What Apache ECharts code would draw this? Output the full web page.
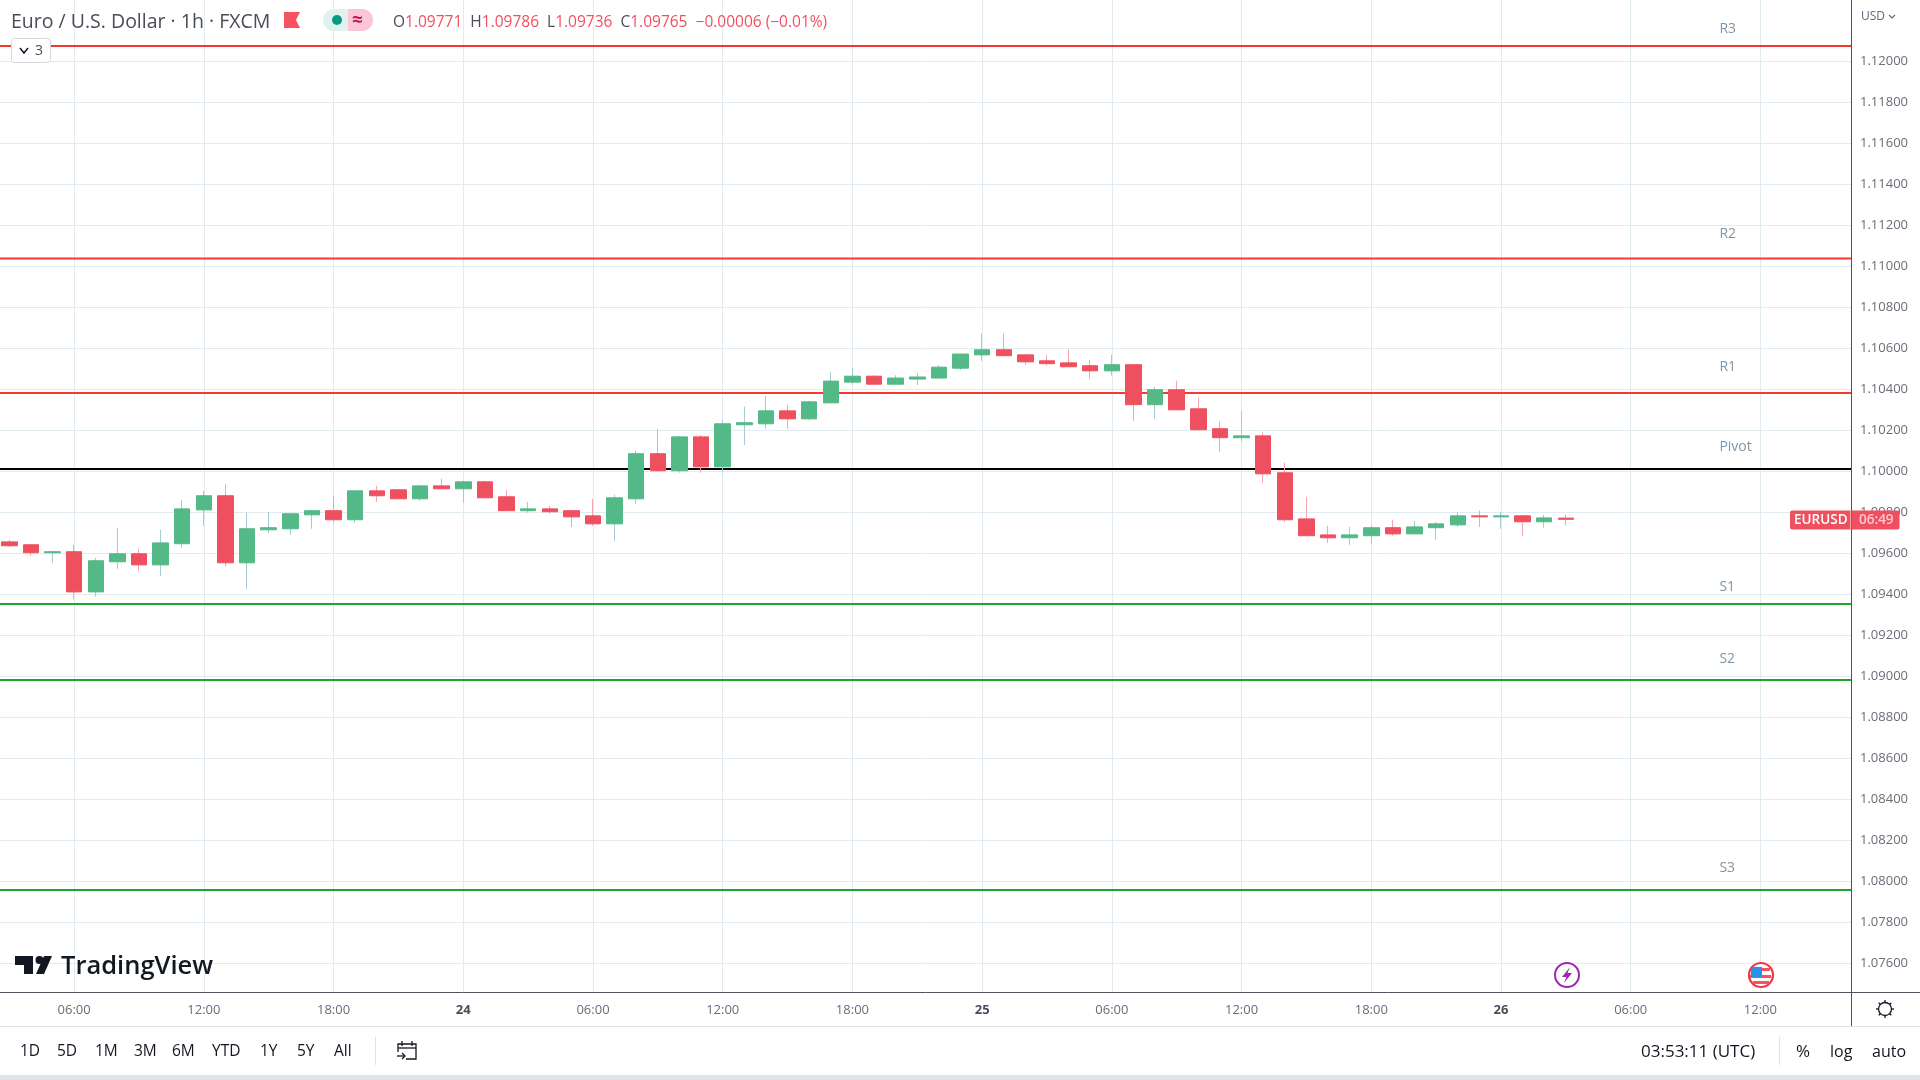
<!DOCTYPE html>
<html>
<head>
<meta charset="utf-8">
<title>EURUSD 1h</title>
<script src="https://cdn.jsdelivr.net/npm/echarts@6/dist/echarts.min.js"></script>
<style>
html, body { margin: 0; padding: 0; background: #fff; }
#main { width: 1920px; height: 1080px; }
</style>
</head>
<body>
<div id="main"></div>
<script>
// x is the hour counted from the start of the 23rd
const hours = [3,4,5,6,7,8,9,10,11,12,13,14,15,16,17,18,19,20,21,22,23,24,25,26,27,28,29,30,31,32,33,34,35,36,37,38,39,40,41,42,43,44,45,46,47,48,49,50,51,52,53,54,55,56,57,58,59,60,61,62,63,64,65,66,67,68,69,70,71,72,73,74,75];
const opens = [1.09655,1.09641,1.09602,1.09607,1.09411,1.09558,1.09597,1.09543,1.09646,1.09811,1.0988,1.09553,1.09714,1.09719,1.09787,1.09807,1.09763,1.09904,1.09909,1.09865,1.09928,1.09914,1.09948,1.09875,1.09807,1.09816,1.09807,1.09782,1.09743,1.09865,1.10085,1.10002,1.10167,1.10021,1.10226,1.10231,1.10294,1.10255,1.10333,1.10434,1.10463,1.10424,1.10449,1.10454,1.10502,1.10567,1.10592,1.10567,1.10538,1.10528,1.10514,1.10489,1.10519,1.10324,1.10397,1.10304,1.10207,1.10163,1.10172,1.09992,1.09767,1.09689,1.09675,1.09685,1.09724,1.09694,1.09724,1.09738,1.09782,1.09777,1.09782,1.09753,1.09771];
const closes = [1.09636,1.09602,1.09607,1.09411,1.09563,1.09597,1.09543,1.0965,1.09816,1.0988,1.09553,1.09719,1.09724,1.09792,1.09807,1.09763,1.09904,1.0988,1.09865,1.09928,1.09914,1.09948,1.0987,1.09807,1.09816,1.09802,1.09777,1.09743,1.0987,1.10085,1.10002,1.10167,1.10021,1.10231,1.10236,1.10294,1.10255,1.10338,1.10439,1.10463,1.10424,1.10454,1.10459,1.10507,1.10571,1.10592,1.10563,1.10533,1.10524,1.10509,1.10489,1.10519,1.10324,1.10397,1.10299,1.10202,1.10163,1.10172,1.09987,1.09763,1.09685,1.09675,1.09689,1.09724,1.09694,1.09728,1.09743,1.09782,1.09777,1.09782,1.09753,1.09772,1.09765];
const lows = [1.09631,1.09587,1.09553,1.09377,1.09387,1.09524,1.09514,1.09489,1.09626,1.09733,1.09533,1.09426,1.09699,1.09689,1.09719,1.09748,1.09748,1.0985,1.09865,1.09855,1.09914,1.09846,1.0987,1.09807,1.09797,1.09792,1.09728,1.09733,1.0966,1.09841,1.09997,1.09992,1.09992,1.09992,1.10128,1.10207,1.10207,1.1025,1.10333,1.1042,1.1042,1.10424,1.1042,1.10454,1.10493,1.10538,1.10563,1.10519,1.10514,1.10509,1.1045,1.10465,1.10246,1.10255,1.10299,1.10197,1.10094,1.10143,1.09943,1.09753,1.09685,1.0965,1.09641,1.09646,1.09685,1.09694,1.09665,1.09728,1.09728,1.09719,1.09685,1.09724,1.09736];
const highs = [1.09665,1.09641,1.09611,1.09641,1.09577,1.09724,1.09621,1.09714,1.0986,1.09904,1.09938,1.09797,1.09802,1.09797,1.09811,1.0988,1.09904,1.09928,1.09909,1.09933,1.09963,1.09953,1.09953,1.09909,1.0985,1.09831,1.09811,1.09865,1.09885,1.10099,1.10207,1.10172,1.10177,1.1025,1.10314,1.10367,1.10324,1.10343,1.10483,1.10502,1.10468,1.10468,1.10478,1.10517,1.10571,1.1067,1.1067,1.10572,1.10567,1.10592,1.10543,1.10567,1.10519,1.10411,1.10441,1.10358,1.10241,1.10294,1.10192,1.10041,1.09875,1.09733,1.09728,1.09738,1.09763,1.09758,1.09753,1.09802,1.09807,1.09802,1.09787,1.09787,1.09786];

const levelNames = ['R3','R2','R1','Pivot','S1','S2','S3'];
const levelValues = [1.12073,1.11037,1.10381,1.1001,1.09352,1.08982,1.07957];
const levelLabelValues = [1.12156,1.11156,1.10508,1.10118,1.09435,1.09084,1.08065];

const yTicks = [1.076,1.078,1.08,1.082,1.084,1.086,1.088,1.09,1.092,1.094,1.096,1.098,1.1,1.102,1.104,1.106,1.108,1.11,1.112,1.114,1.116,1.118,1.12];
const xTicks = [6,12,18,24,30,36,42,48,54,60,66,72,78,84];
const xTickLabels = ['06:00','12:00','18:00','24','06:00','12:00','18:00','25','06:00','12:00','18:00','26','06:00','12:00'];
const rangeButtons = ['1D','5D','1M','3M','6M','YTD','1Y','5Y','All'];
const ohlc = [['O','1.09771'],['H','1.09786'],['L','1.09736'],['C','1.09765']];

const X_MIN = 2.57, X_MAX = 88.19, Y_MIN = 1.0746, Y_MAX = 1.122975;
const UP = '#53b987', DOWN = '#ef5060', UP_WICK = '#a3cdd0', DOWN_WICK = '#f7a3ae';
const GRID = '#e1ebf2', AXIS = '#50535e', UI_FONT = '"Open Sans", sans-serif';

function levelColor(name) {
    if (name === 'Pivot') return '#000000';
    return name[0] === 'R' ? '#f23a30' : '#1fa62c';
}

/** text element for the toolbars */
function uiText(x, y, text, size, color, extra) {
    return {
        type: 'text', x: x, y: y, z: 100,
        style: Object.assign({
            text: text, fill: color, fontFamily: UI_FONT, fontSize: size, align: 'left', verticalAlign: 'middle'
        }, extra || {})
    };
}
function hline(x1, x2, y, color, width) {
    return { type: 'line', z: 90, shape: { x1: x1, y1: y, x2: x2, y2: y }, style: { stroke: color, lineWidth: width || 1 } };
}
function vline(x, y1, y2, color, width) {
    return { type: 'line', z: 90, shape: { x1: x, y1: y1, x2: x, y2: y2 }, style: { stroke: color, lineWidth: width || 1 } };
}
function box(x, y, w, h, fill, r, stroke) {
    return { type: 'rect', z: 97, shape: { x: x, y: y, width: w, height: h, r: r || 0 }, style: { fill: fill, stroke: stroke || null } };
}
function poly(points, fill) {
    return { type: 'polygon', z: 98, shape: { points: points }, style: { fill: fill } };
}
function stroke(points, color, width) {
    return { type: 'polyline', z: 98, shape: { points: points }, style: { stroke: color, fill: null, lineWidth: width || 1.3 } };
}
function ring(cx, cy, r, color, width, fill) {
    return { type: 'circle', z: 96, shape: { cx: cx, cy: cy, r: r }, style: { stroke: color, lineWidth: width, fill: fill || '#fff' } };
}

function headerElements() {
    let list = [];
    list.push(uiText(11, 22, 'Euro / U.S. Dollar · 1h · FXCM', 19.5, '#4a4d57'));
    list.push(poly([[284, 12], [300, 12], [296, 20], [300, 28], [284, 28]], '#f7525f'));
    list.push(box(323, 9, 25, 22, '#dff2ef', [11, 0, 0, 11]));
    list.push(box(348, 9, 25, 22, '#fbc7d8', [0, 11, 11, 0]));
    list.push({ type: 'circle', z: 98, shape: { cx: 337, cy: 20, r: 5 }, style: { fill: '#089981' } });
    list.push(uiText(352, 21, '≈', 19, '#c2185b', { fontWeight: 'bold' }));
    let rich = ohlc.map(p => '{k|' + p[0] + '}{v|' + p[1] + '}').join('  ') + '  {v|−0.00006 (−0.01%)}';
    list.push(uiText(393, 23, rich, 15.5, '#4a4d57', {
        rich: {
            k: { fill: '#4a4d57', fontFamily: UI_FONT, fontSize: 15.5 },
            v: { fill: '#ef5060', fontFamily: UI_FONT, fontSize: 15.5 }
        }
    }));
    list.push(box(11.5, 38.5, 39, 24, '#fff', 3, '#d6d8de'));
    list.push(stroke([[20, 48], [24, 53], [28, 48]], '#131722', 1.5));
    list.push(uiText(35, 51, '3', 14, '#4a4d57'));
    list.push(uiText(1861, 17, 'USD', 12, '#5a6a80'));
    list.push(stroke([[1889, 15], [1892, 18], [1895, 15]], '#5a6a80', 1.2));
    return list;
}

function logoElements() {
    return [
        poly([[15, 956], [33, 956], [33, 974], [24, 974], [24, 965], [15, 965]], '#131722'),
        { type: 'circle', z: 98, shape: { cx: 39.5, cy: 960, r: 4 }, style: { fill: '#131722' } },
        poly([[44, 956], [52, 956], [44, 974], [36, 974]], '#131722'),
        uiText(61, 967, 'TradingView', 25.5, '#131722', { fontWeight: 600 })
    ];
}

function markerElements() {
    let list = [];
    // session break marker
    list.push(ring(1567, 975, 12, '#9c27b0', 2));
    list.push(poly([[1570, 967], [1562, 977], [1566.5, 977], [1564, 983], [1572, 973], [1567.5, 973]], '#9c27b0'));
    // US event marker
    list.push(ring(1761, 975, 12, '#f23645', 2.2));
    list.push(box(1752, 968, 18, 3, '#f7525f'));
    list.push(box(1750, 975, 21, 3, '#f7525f'));
    list.push(box(1753, 981, 16, 3, '#f7525f'));
    list.push(box(1751, 967, 11, 10, '#2e8fe8', [3, 0, 0, 0]));
    return list;
}

function tagElements() {
    return [
        box(1790, 510.5, 60.5, 19, DOWN, [2, 0, 0, 2]),
        box(1851.5, 510.5, 48, 19, DOWN, [0, 2, 2, 0]),
        uiText(1794, 520.5, 'EURUSD', 13.5, '#ffffff', { fontWeight: 600 }),
        uiText(1859, 520.5, '06:49', 13.5, '#ffc9d0', { fontWeight: 600 })
    ];
}

function footerElements() {
    let list = [];
    list.push(vline(1851.5, 992, 1026, AXIS));
    list.push(hline(1851, 1920, 992.5, AXIS));
    list.push(hline(0, 1920, 1026.5, '#e0e3eb'));
    list.push(box(0, 1075, 1920, 5, '#e0e3eb'));
    let xs = [20, 57, 95, 134, 172, 212, 260, 297, 334];
    rangeButtons.forEach((t, i) => list.push(uiText(xs[i], 1052, t, 15.5, '#131722')));
    list.push(vline(375.5, 1037, 1065, '#e0e3eb'));
    // go-to-date icon
    list.push(stroke([[398, 1052], [398, 1044], [416, 1044], [416, 1059], [406, 1059]], '#131722'));
    list.push(stroke([[398, 1048], [416, 1048]], '#131722'));
    list.push(stroke([[402, 1041], [402, 1046]], '#131722'));
    list.push(stroke([[412, 1041], [412, 1046]], '#131722'));
    list.push(stroke([[397, 1056], [405, 1056]], '#131722'));
    list.push(stroke([[402, 1053], [405, 1056], [402, 1059]], '#131722'));
    list.push(uiText(1641, 1052, '03:53:11 (UTC)', 17, '#131722'));
    list.push(vline(1779.5, 1037, 1065, '#e0e3eb'));
    list.push(uiText(1796, 1052, '%', 17, '#131722'));
    list.push(uiText(1830, 1052, 'log', 16, '#131722'));
    list.push(uiText(1872, 1052, 'auto', 16, '#131722'));
    // settings gear
    list.push(ring(1885, 1009, 6.5, '#131722', 1.3));
    [[0, -1], [0, 1], [1, 0], [-1, 0], [.7, .7], [-.7, .7], [.7, -.7], [-.7, -.7]].forEach(d => {
        list.push(stroke([[1885 + d[0] * 6.5, 1009 + d[1] * 6.5], [1885 + d[0] * 9, 1009 + d[1] * 9]], '#131722', 1.3));
    });
    return list;
}

const wickData = hours.map((h, i) => [h, opens[i], closes[i], lows[i], highs[i]]);
const bodyData = hours.map((h, i) => [h, opens[i], closes[i], Math.min(opens[i], closes[i]), Math.max(opens[i], closes[i])]);

const levelSeries = levelNames.map((name, i) => ({
    name: name,
    type: 'line',
    z: 1,
    silent: true,
    showSymbol: false,
    lineStyle: { color: levelColor(name), width: 2 },
    data: [[X_MIN, levelValues[i]], [X_MAX, levelValues[i]]]
}));

const levelLabels = {
    type: 'scatter',
    z: 1,
    silent: true,
    symbolSize: 1,
    itemStyle: { color: 'rgba(0,0,0,0)' },
    label: {
        show: true,
        position: 'right',
        distance: 0,
        color: '#5f7a90',
        fontFamily: UI_FONT,
        fontSize: 14,
        formatter: p => levelNames[p.dataIndex]
    },
    data: levelLabelValues.map(v => [82.08, v])
};

const option = {
    animation: false,
    backgroundColor: '#ffffff',
    grid: { left: 0, right: 69, top: 0, bottom: 88 },
    xAxis: {
        type: 'value',
        min: X_MIN,
        max: X_MAX,
        axisLine: { onZero: false, lineStyle: { color: AXIS } },
        axisTick: { show: false, customValues: xTicks },
        splitLine: { show: true, lineStyle: { color: GRID, width: 1 } },
        axisLabel: {
            customValues: xTicks,
            margin: 12,
            color: '#6a6d78',
            fontFamily: UI_FONT,
            fontSize: 13,
            formatter: function (v) {
                let t = xTickLabels[xTicks.indexOf(v)];
                return t.length === 2 ? '{day|' + t + '}' : t;
            },
            rich: { day: { fontWeight: 'bold', color: '#4a4d57', fontFamily: UI_FONT, fontSize: 13 } }
        }
    },
    yAxis: {
        type: 'value',
        position: 'right',
        min: Y_MIN,
        max: Y_MAX,
        axisLine: { show: true, lineStyle: { color: AXIS } },
        axisTick: { show: false, customValues: yTicks },
        splitLine: { show: true, lineStyle: { color: GRID, width: 1 } },
        axisLabel: {
            customValues: yTicks,
            margin: 9,
            color: '#6a6d78',
            fontFamily: UI_FONT,
            fontSize: 13,
            formatter: v => v.toFixed(5)
        }
    },
    graphic: [].concat(headerElements(), logoElements(), markerElements(), tagElements(), footerElements()),
    series: levelSeries.concat([
        levelLabels,
        {
            name: 'wicks',
            type: 'candlestick',
            z: 3,
            silent: true,
            barWidth: 1,
            itemStyle: { color: UP_WICK, color0: DOWN_WICK, borderColor: UP_WICK, borderColor0: DOWN_WICK, borderWidth: 1 },
            data: wickData
        },
        {
            name: 'EURUSD',
            type: 'candlestick',
            z: 4,
            silent: true,
            barWidth: 16,
            itemStyle: { color: UP, color0: DOWN, borderColor: UP, borderColor0: DOWN, borderWidth: 1 },
            data: bodyData
        }
    ])
};

const myChart = echarts.init(document.getElementById('main'));
myChart.setOption(option);
</script>
</body>
</html>
